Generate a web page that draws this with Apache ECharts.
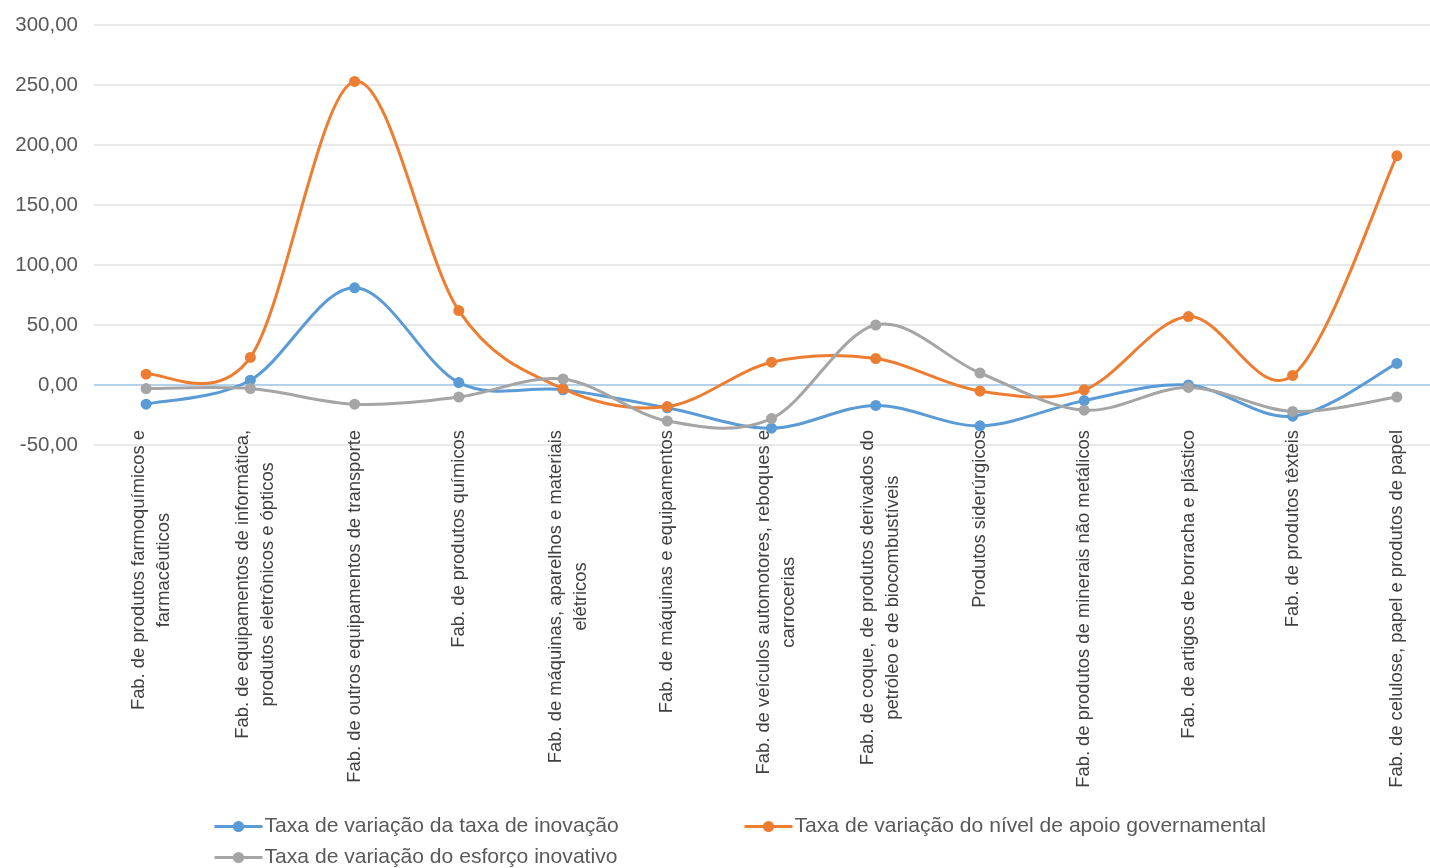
<!DOCTYPE html>
<html>
<head>
<meta charset="utf-8">
<script src="https://cdn.jsdelivr.net/npm/echarts@6/dist/echarts.min.js"></script>
<style>
  html, body { margin: 0; padding: 0; background: #ffffff; overflow: hidden; }
  /* the plot area runs slightly past the right edge of the window */
  #chart { width: 1449px; height: 868px; }
</style>
</head>
<body>
<div id="chart"></div>
<script>
// Sectors of the manufacturing industry (line breaks mark the wrapped label lines)
const categories = [
  'Fab. de produtos farmoquímicos e\nfarmacêuticos',
  'Fab. de equipamentos de informática,\nprodutos eletrônicos e ópticos',
  'Fab. de outros equipamentos de transporte',
  'Fab. de produtos químicos',
  'Fab. de máquinas, aparelhos e materiais\nelétricos',
  'Fab. de máquinas e equipamentos',
  'Fab. de veículos automotores, reboques e\ncarrocerias',
  'Fab. de coque, de produtos derivados do\npetróleo e de biocombustíveis',
  'Produtos siderúrgicos',
  'Fab. de produtos de minerais não metálicos',
  'Fab. de artigos de borracha e plástico',
  'Fab. de produtos têxteis',
  'Fab. de celulose, papel e produtos de papel'
];

const seriesNames = [
  'Taxa de variação da taxa de inovação',
  'Taxa de variação do nível de apoio governamental',
  'Taxa de variação do esforço inovativo'
];

const taxaInovacao = [-16, 4, 81, 2, -4, -19, -36, -17, -34, -13, 0, -26, 18];
const apoioGovernamental = [9, 23, 253, 62, -3, -18, 19, 22, -5, -4, 57, 8, 191];
const esforcoInovativo = [-3, -3, -16, -10, 5, -30, -28, 50, 10, -21, -2, -22, -10];

// Value axis ticks
const yMin = -50;
const yMax = 300;
const yStep = 50;

const colors = ['#5B9BD5', '#ED7D31', '#A5A5A5'];
const font = "'Liberation Sans', Arial, sans-serif";

const chart = echarts.init(document.getElementById('chart'), null, { renderer: 'canvas' });

// Smooth curve through the data points (Catmull-Rom segments drawn as cubic Béziers).
// Each item draws the segment from its point to the next one, using the axis scales.
function curveSeries(values, color) {
  const n = values.length;
  return {
    type: 'custom',
    coordinateSystem: 'cartesian2d',
    silent: true,
    data: values.map(function (v, i) { return [i, v]; }),
    encode: { x: 0, y: 1 },
    renderItem: function (params, api) {
      const i = params.dataIndexInside;
      if (i >= n - 1) return null;
      const pt = function (k) {
        k = Math.max(0, Math.min(n - 1, k));
        return api.coord([api.value(0, k), api.value(1, k)]);
      };
      const p0 = pt(i - 1), p1 = pt(i), p2 = pt(i + 1), p3 = pt(i + 2);
      return {
        type: 'bezierCurve',
        shape: {
          x1: p1[0], y1: p1[1],
          cpx1: p1[0] + (p2[0] - p0[0]) / 6, cpy1: p1[1] + (p2[1] - p0[1]) / 6,
          cpx2: p2[0] - (p3[0] - p1[0]) / 6, cpy2: p2[1] - (p3[1] - p1[1]) / 6,
          x2: p2[0], y2: p2[1]
        },
        style: { stroke: color, lineWidth: 3, fill: null, lineCap: 'round' }
      };
    }
  };
}

// Markers of each series (the curve itself is drawn by curveSeries)
function markerSeries(name, values, color) {
  return {
    name: name,
    type: 'line',
    data: values,
    symbol: 'circle',
    symbolSize: 11,
    showAllSymbol: true,
    lineStyle: { opacity: 0 },
    itemStyle: { color: color },
    emphasis: { disabled: true },
    silent: true
  };
}

function legendAt(idx, left, top) {
  return {
    data: [{
      name: seriesNames[idx],
      itemStyle: { color: colors[idx] },
      lineStyle: { color: colors[idx], width: 3, opacity: 1 }
    }],
    left: left,
    top: top,
    padding: 0,
    itemWidth: 48,
    itemHeight: 14,
    itemGap: 0,
    textStyle: { fontFamily: font, fontSize: 21.1, color: '#595959', padding: [0, 0, 0, -3] },
    selectedMode: false
  };
}

const gridColor = '#e2e2e2';
const zeroColor = '#9DC3E6';

chart.setOption({
  backgroundColor: '#ffffff',
  animation: false,
  color: colors,
  legend: [
    legendAt(0, 213, 816),
    legendAt(1, 743, 816),
    legendAt(2, 213, 847)
  ],
  grid: { left: 94, right: 0, top: 25, bottom: 423, containLabel: false },
  xAxis: {
    type: 'category',
    data: categories,
    boundaryGap: true,
    axisLine: { show: false },
    axisTick: { show: false },
    splitLine: { show: false },
    axisLabel: {
      interval: 0,
      rotate: 90,
      margin: -15,
      formatter: function (v) {
        const lines = v.split('\n');
        const body = lines.map(function (s) { return '{c|' + s + '}'; }).join('\n');
        // wrapped labels get a thin leading spacer so the pair sits a little to the right
        return lines.length > 1 ? '{s| }\n' + body : body;
      },
      rich: {
        c: { align: 'center', fontFamily: font, fontSize: 18.4, lineHeight: 25, color: '#404040' },
        s: { fontSize: 1, lineHeight: 10 }
      }
    }
  },
  yAxis: {
    type: 'value',
    min: yMin,
    max: yMax,
    interval: yStep,
    axisLine: { show: false },
    axisTick: { show: false },
    splitLine: {
      lineStyle: {
        // the 0,00 line is drawn in light blue, the others in light grey
        color: [gridColor, zeroColor, gridColor, gridColor, gridColor, gridColor, gridColor, gridColor],
        width: 1.5
      }
    },
    axisLabel: {
      margin: 16,
      fontFamily: font,
      fontSize: 20.5,
      color: '#595959',
      formatter: function (v) { return v.toFixed(2).replace('.', ','); }
    }
  },
  series: [
    curveSeries(taxaInovacao, colors[0]),
    markerSeries(seriesNames[0], taxaInovacao, colors[0]),
    curveSeries(apoioGovernamental, colors[1]),
    markerSeries(seriesNames[1], apoioGovernamental, colors[1]),
    curveSeries(esforcoInovativo, colors[2]),
    markerSeries(seriesNames[2], esforcoInovativo, colors[2])
  ]
});
</script>
</body>
</html>
